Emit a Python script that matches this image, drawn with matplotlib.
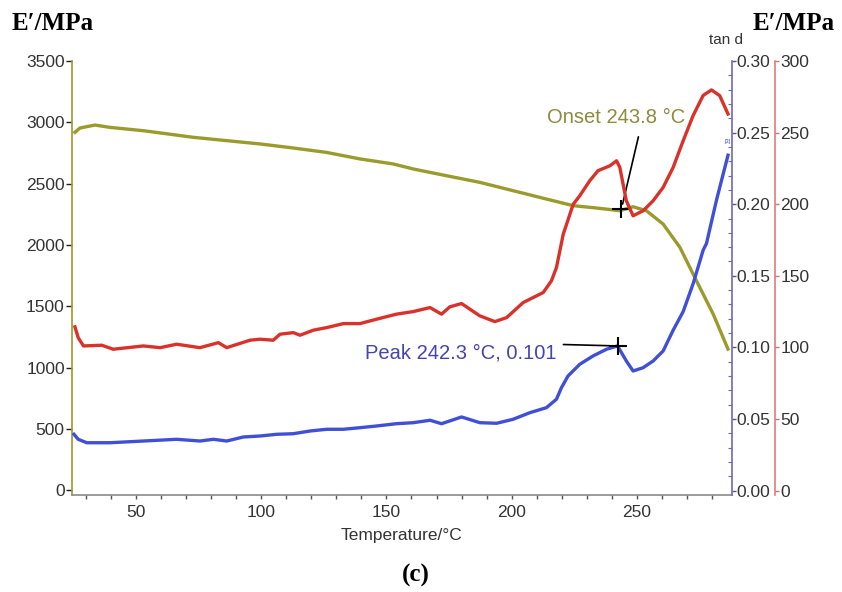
import matplotlib.pyplot as plt
from matplotlib.ticker import MultipleLocator, FormatStrFormatter

# storage modulus E' (left axis, MPa)
temp_storage = [25.6, 27.6, 33.6, 39.6, 52.9, 59.6, 72.9, 86.2, 99.5, 112.8,
                126.1, 139.4, 152.7, 160.7, 174.0, 187.3, 200.6, 213.9, 224.6,
                233.9, 243.2, 248.5, 253.8, 260.5, 267.2, 273.8, 280.5, 286.4]
storage = [2919, 2954, 2978, 2959, 2932, 2914, 2878, 2851, 2824, 2791,
           2755, 2702, 2661, 2620, 2565, 2511, 2443, 2375, 2321,
           2302, 2280, 2312, 2280, 2171, 1981, 1709, 1437, 1152]

# loss modulus E'' (outer right axis, MPa)
temp_loss = [25.6, 26.9, 29.0, 36.3, 40.9, 52.9, 59.6, 66.2, 75.5, 82.9,
             86.2, 95.5, 99.5, 104.8, 107.5, 112.8, 115.5, 120.8, 126.1, 132.8,
             139.4, 146.1, 154.0, 160.7, 167.4, 172.0, 175.3, 180.0, 187.3, 193.3,
             198.0, 204.6, 212.6, 215.9, 217.9, 220.6, 224.6, 227.2, 231.2, 234.5,
             239.2, 241.9, 243.2, 245.8, 248.5, 252.5, 256.5, 260.5, 264.5, 268.5,
             272.5, 276.5, 279.8, 283.1, 286.4]
loss = [114.3, 106.8, 101.0, 101.5, 98.7, 101.0, 99.8, 102.2, 99.8, 103.3,
        99.8, 105.0, 105.7, 105.0, 109.2, 110.3, 108.5, 112.0, 113.8, 116.6,
        116.6, 119.7, 123.2, 125.0, 127.8, 123.2, 128.3, 130.6, 122.0, 118.0,
        120.8, 131.3, 138.3, 146.5, 155.8, 179.0, 200.0, 205.9, 216.4, 223.4,
        226.8, 230.3, 225.7, 202.4, 191.9, 195.4, 202.4, 211.7, 225.7, 244.3,
        262.0, 276.0, 279.8, 275.8, 263.0]

# tan delta (inner right axis)
temp_tan = [25.2, 26.9, 30.3, 39.6, 52.9, 66.2, 75.5, 80.9, 86.2, 92.8,
            99.5, 106.2, 112.8, 119.5, 126.1, 132.8, 139.4, 146.1, 154.0, 160.7,
            167.4, 172.0, 180.0, 187.3, 194.0, 200.6, 207.3, 213.9, 217.9, 219.9,
            222.5, 227.2, 232.5, 237.9, 242.3, 245.8, 248.5, 252.5, 256.5, 260.5,
            264.5, 268.5, 272.5, 276.5, 277.8, 281.8, 286.4]
tan_d = [0.0393, 0.0358, 0.0334, 0.0334, 0.0346, 0.0358, 0.0346, 0.0358, 0.0346, 0.0374,
         0.0381, 0.0393, 0.0397, 0.0416, 0.0428, 0.0428, 0.0439, 0.0451, 0.0467, 0.0474,
         0.0491, 0.0467, 0.0514, 0.0474, 0.0470, 0.0498, 0.0544, 0.0579, 0.0638, 0.0719,
         0.0800, 0.0882, 0.0940, 0.0987, 0.1010, 0.0905, 0.0835, 0.0858, 0.0905, 0.0975,
         0.1120, 0.1250, 0.1446, 0.1680, 0.1725, 0.2028, 0.2342]

onset_t, onset_e = 243.8, 2290
peak_t, peak_tan = 242.3, 0.101

OLIVE = '#9b9a2c'
RED = '#d8322a'
BLUE = '#3f50d6'
TICK_TXT = '#333333'

plt.rcParams['font.family'] = ['Liberation Sans', 'DejaVu Sans']

fig = plt.figure(figsize=(8.42, 5.92), dpi=100)
ax = fig.add_axes([71.7 / 842, 1 - 495 / 592, 660.3 / 842, 434 / 592])
ax2 = ax.twinx()
ax3 = ax.twinx()

ax.plot(temp_storage, storage, color=OLIVE, lw=2.4, zorder=3)
ax2.plot(temp_tan, tan_d, color=BLUE, lw=2.4)
ax3.plot(temp_loss, loss, color=RED, lw=2.4)

ax.set_xlim(24.3, 288)
ax.set_ylim(-37, 3500)
ax2.set_ylim(-0.0031, 0.30)
ax3.set_ylim(-3.1, 300)

# left axis
for s in ['top', 'right']:
    ax.spines[s].set_visible(False)
ax.spines['left'].set_color(OLIVE)
ax.spines['left'].set_linewidth(1.2)
ax.spines['bottom'].set_color('#8a8a8a')
ax.spines['bottom'].set_linewidth(1.2)
ax.yaxis.set_major_locator(MultipleLocator(500))
ax.xaxis.set_major_locator(MultipleLocator(50))
ax.xaxis.set_minor_locator(MultipleLocator(10))
ax.tick_params(axis='y', direction='out', length=4, width=1, color='#222222',
               labelcolor=TICK_TXT, labelsize=12.5, pad=1)
ax.tick_params(axis='x', which='both', direction='out', length=3, width=1,
               color='#555555', labelcolor=TICK_TXT, labelsize=12.5, pad=4)
ax.set_xlabel('Temperature/°C', fontsize=12.5, color=TICK_TXT, labelpad=6)

# tan d axis
for s in ['top', 'left', 'bottom']:
    ax2.spines[s].set_visible(False)
ax2.spines['right'].set_color('#6b6bb5')
ax2.spines['right'].set_linewidth(1.2)
ax2.yaxis.set_major_locator(MultipleLocator(0.05))
ax2.yaxis.set_minor_locator(MultipleLocator(0.01))
ax2.yaxis.set_major_formatter(FormatStrFormatter('%.2f'))
ax2.tick_params(axis='y', which='major', direction='out', length=3, width=1,
                color='#555588', labelcolor=TICK_TXT, labelsize=12.5, pad=0)
ax2.tick_params(axis='y', which='minor', direction='in', length=3, width=0.8,
                color='#6b6bb5')

# E'' axis
for s in ['top', 'left', 'bottom']:
    ax3.spines[s].set_visible(False)
ax3.spines['right'].set_position(('axes', 1 + 43 / 660.3))
ax3.spines['right'].set_color('#d87272')
ax3.spines['right'].set_linewidth(1.1)
ax3.yaxis.set_major_locator(MultipleLocator(50))
ax3.tick_params(axis='y', direction='out', length=3, width=1, color='#d87272',
                labelcolor=TICK_TXT, labelsize=12.5, pad=1)

# onset of the storage modulus drop
ax.plot(onset_t, onset_e, marker='+', ms=13, mew=1.5, color='black', zorder=5)
ax.annotate('Onset %.1f °C' % onset_t, xy=(onset_t, onset_e), xytext=(-4, 66),
            textcoords='offset points', ha='center', va='center',
            fontsize=14.5, color='#8c8b3e',
            arrowprops=dict(arrowstyle='-', color='black', lw=1.2,
                            relpos=(0.68, 0.0), shrinkA=5, shrinkB=-4))

# tan d peak
ax2.plot(peak_t, peak_tan, marker='+', ms=13, mew=1.5, color='black', zorder=5)
ax2.annotate('Peak %.1f °C, %.3f' % (peak_t, peak_tan), xy=(peak_t, peak_tan),
             xytext=(-44, -5), textcoords='offset points', ha='right', va='center',
             fontsize=14.5, color='#4444b0',
             arrowprops=dict(arrowstyle='-', color='black', lw=1.2,
                             relpos=(1.0, 0.95), shrinkA=3, shrinkB=-6))
ax2.text(temp_tan[-1], tan_d[-1] + 0.008, '[3]', fontsize=4, color=BLUE,
         ha='center', va='bottom')

fig.text(12 / 842, 1 - 23 / 592, 'E′/MPa', family=['Liberation Serif', 'DejaVu Serif'],
         fontweight='bold', fontsize=18, ha='left', va='center')
fig.text(835 / 842, 1 - 23 / 592, 'E′/MPa', family=['Liberation Serif', 'DejaVu Serif'],
         fontweight='bold', fontsize=18, ha='right', va='center')
fig.text(726 / 842, 1 - 40 / 592, 'tan d', fontsize=11, color=TICK_TXT,
         ha='center', va='center')
fig.text(416 / 842, 1 - 575 / 592, '(c)', family=['Liberation Serif', 'DejaVu Serif'],
         fontweight='bold', fontsize=18, ha='center', va='center')

fig.savefig('out.png', dpi=100)
